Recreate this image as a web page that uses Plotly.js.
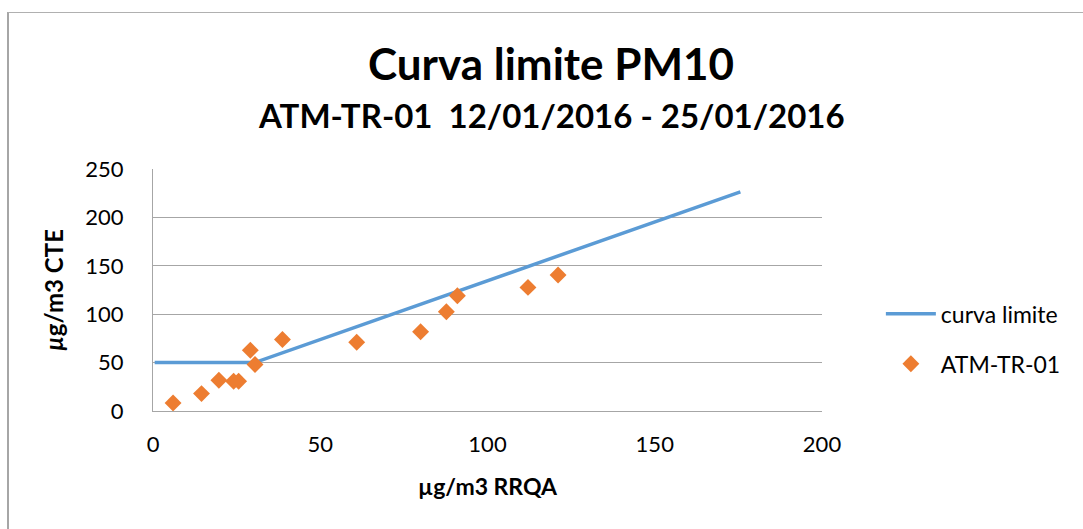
<!DOCTYPE html>
<html>
<head>
<meta charset="utf-8">
<script src="https://cdn.plot.ly/plotly-3.0.1.min.js"></script>
<style>
  html, body { margin: 0; padding: 0; background: #fff; }
  #wrap { position: relative; width: 1083px; height: 529px; }
  #chart { width: 1083px; height: 529px; }
  #frame { position: absolute; left: 7px; top: 12px; right: 0; bottom: 0;
           border-left: 2px solid #a6a6a6; border-top: 1px solid #b0b0b0; pointer-events: none; }
</style>
</head>
<body>
<div id="wrap">
  <div id="chart"></div>
  <div id="frame"></div>
</div>
<script>
// Limit curve (µg/m3 RRQA vs µg/m3 CTE)
const curveX = [0.5, 30.4, 175.6];
const curveY = [50, 50, 226.4];

// ATM-TR-01 measurements
const obsX = [6.0, 14.5, 19.7, 24.1, 25.6, 29.1, 30.5, 38.7, 60.9, 80.0, 87.7, 91.0, 112.1, 121.1];
const obsY = [8.3, 18.0, 31.8, 30.7, 30.7, 62.8, 48.0, 73.9, 71.1, 81.8, 102.5, 119.0, 127.7, 140.5];

const xTicks = [0, 50, 100, 150, 200];
const yTicks = [0, 50, 100, 150, 200, 250];

const titleText = "Curva limite PM10";
const subtitleText = "ATM-TR-01  12/01/2016 - 25/01/2016";
const seriesNames = ["curva limite", "ATM-TR-01"];

const FONT = "Lato, 'Open Sans', sans-serif";

const traces = [
  {
    x: curveX, y: curveY, type: "scatter", mode: "lines", name: seriesNames[0],
    line: { color: "#5B9BD5", width: 3.5 }, legendgroup: "a"
  },
  {
    x: obsX, y: obsY, type: "scatter", mode: "markers", name: seriesNames[1],
    marker: { symbol: "diamond", color: "#ED7D31", size: 13, line: { width: 0 } },
    legendgroup: "b"
  }
];

const layout = {
  width: 1083, height: 529,
  margin: { l: 153, r: 261, t: 169, b: 118 },
  paper_bgcolor: "#ffffff", plot_bgcolor: "#ffffff",
  font: { family: FONT, size: 22, color: "#000" },
  showlegend: true,
  legend: {
    x: 1.088, y: 0.298, xanchor: "left", yanchor: "middle",
    font: { family: FONT, size: 23, color: "#000" },
    tracegroupgap: 17, itemwidth: 50, bgcolor: "rgba(0,0,0,0)"
  },
  xaxis: {
    range: [0, 200], tickvals: xTicks, ticktext: xTicks.map(String),
    showgrid: false, zeroline: false, showline: true, linecolor: "#a6a6a6", linewidth: 1,
    ticks: "", ticklabelstandoff: 14,
    tickfont: { family: FONT, size: 22 },
    title: { text: "<b>µg/m3 RRQA</b>", font: { family: FONT, size: 23 }, standoff: 22 }
  },
  yaxis: {
    range: [0, 250], tickvals: yTicks, ticktext: yTicks.map(String),
    showgrid: true, gridcolor: "#a6a6a6", gridwidth: 1,
    zeroline: false, showline: true, linecolor: "#a6a6a6", linewidth: 1,
    ticks: "", ticklabelstandoff: 24,
    tickfont: { family: FONT, size: 22 },
    title: { text: "<b><i>µ</i>g/m3 CTE</b>", font: { family: FONT, size: 24 }, standoff: 14 }
  },
  annotations: [
    { text: "<b>" + titleText + "</b>", xref: "paper", yref: "paper", x: 0.595, y: 1,
      yshift: 106, xanchor: "center", yanchor: "middle", showarrow: false,
      font: { family: FONT, size: 44, color: "#000" } },
    { text: "<b>" + subtitleText + "</b>", xref: "paper", yref: "paper", x: 0.595, y: 1,
      yshift: 54, xanchor: "center", yanchor: "middle", showarrow: false,
      font: { family: FONT, size: 33, color: "#000" } }
  ]
};

Plotly.newPlot("chart", traces, layout, { displayModeBar: false, staticPlot: true });
</script>
</body>
</html>
